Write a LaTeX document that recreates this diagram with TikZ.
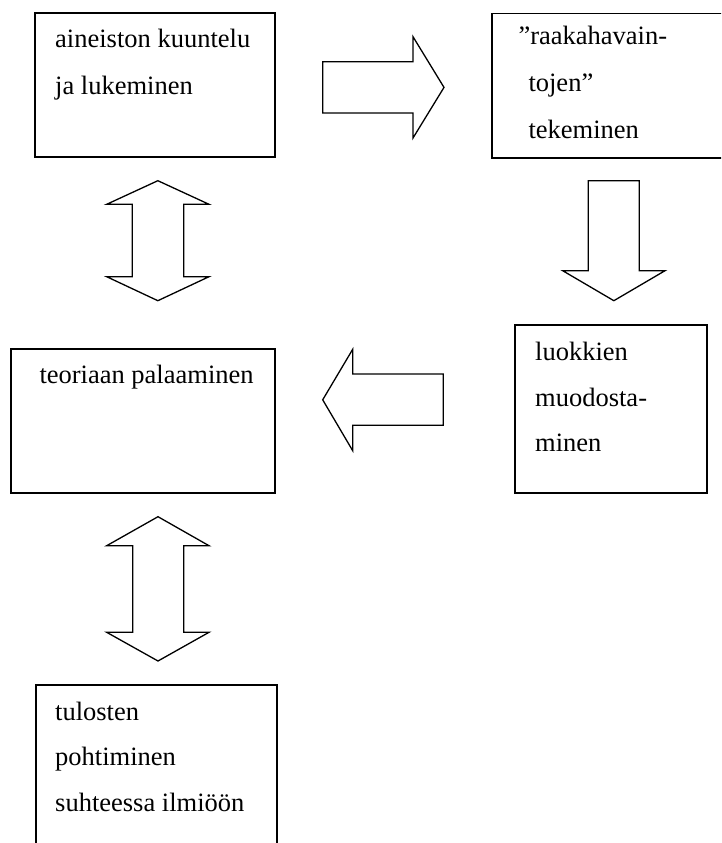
\documentclass[tikz,border=0pt]{standalone}
\usepackage{fontspec}
\setmainfont{Liberation Serif}
\begin{document}
\begin{tikzpicture}[x=1pt,y=-1pt,
  box/.style={draw=black, line width=1.8pt, inner sep=0pt, fill=none},
  txt/.style={anchor=base west, inner sep=0pt, font=\fontsize{26.5}{46}\selectfont},
  blockarrow/.style={draw=black, line width=1.3pt, line join=miter, fill=white}]
  \useasboundingbox (0,0) rectangle (721,843);
  \clip (0,0) rectangle (721,843);

  % process boxes (the second and fifth run past the page edge)
  \node[box, minimum width=240pt, minimum height=144pt] (b1) at (155,85) {};
  \node[box, minimum width=280pt, minimum height=144pt, anchor=north west] (b2) at (490.7,12.7) {};
  \node[box, minimum width=264.6pt, minimum height=144.3pt] (b3) at (143,421.15) {};
  \node[box, minimum width=192.6pt, minimum height=167.7pt] (b4) at (611,408.85) {};
  \node[box, minimum width=241pt, minimum height=240pt, anchor=north west] (b5) at (34.7,684.3) {};

  % box texts
  \node[txt] (t1a) at (55,47.7) {aineiston kuuntelu};
  \node[txt] (t1b) at (55,94.3) {ja lukeminen};
  \node[txt] (t2a) at (518.3,45) {”raakahavain-};
  \node[txt] (t2b) at (528.3,91.7) {tojen”};
  \node[txt] (t2c) at (528.3,138.3) {tekeminen};
  \node[txt] (t3a) at (39.3,383.3) {teoriaan palaaminen};
  \node[txt] (t4a) at (535,360) {luokkien};
  \node[txt] (t4b) at (535,406) {muodosta-};
  \node[txt] (t4c) at (535,451.7) {minen};
  \node[txt] (t5a) at (55,720) {tulosten};
  \node[txt] (t5b) at (55,765.7) {pohtiminen};
  \node[txt] (t5c) at (55,811.7) {suhteessa ilmiöön};

  % block arrow: listening/reading -> raw observations
  \draw[blockarrow] (322.7,61.7) -- (413,61.7) -- (413,36.7) -- (444,87.4)
    -- (413,138) -- (413,113) -- (322.7,113) -- cycle;

  % block arrow: raw observations -> categories
  \draw[blockarrow] (588.3,180.7) -- (639.3,180.7) -- (639.3,270.7) -- (665,270.7)
    -- (613.85,300.7) -- (562.7,270.7) -- (588.3,270.7) -- cycle;

  % block arrow: categories -> back to theory
  \draw[blockarrow] (443.3,374) -- (352.7,374) -- (352.7,349.3) -- (322.7,399.8)
    -- (352.7,450.7) -- (352.7,425.3) -- (443.3,425.3) -- cycle;

  % double block arrow between first box and theory box
  \draw[blockarrow] (157.85,180.7) -- (209,204.3) -- (183.7,204.3) -- (183.7,276.7)
    -- (209,276.7) -- (157.85,300.7) -- (106.7,276.7) -- (132.3,276.7)
    -- (132.3,204.3) -- (106.7,204.3) -- cycle;

  % double block arrow between theory box and results box
  \draw[blockarrow] (158,516.7) -- (209,545.7) -- (183.7,545.7) -- (183.7,632.3)
    -- (209,632.3) -- (158,661) -- (106.7,632.3) -- (132.7,632.3)
    -- (132.7,545.7) -- (106.7,545.7) -- cycle;
\end{tikzpicture}
\end{document}
